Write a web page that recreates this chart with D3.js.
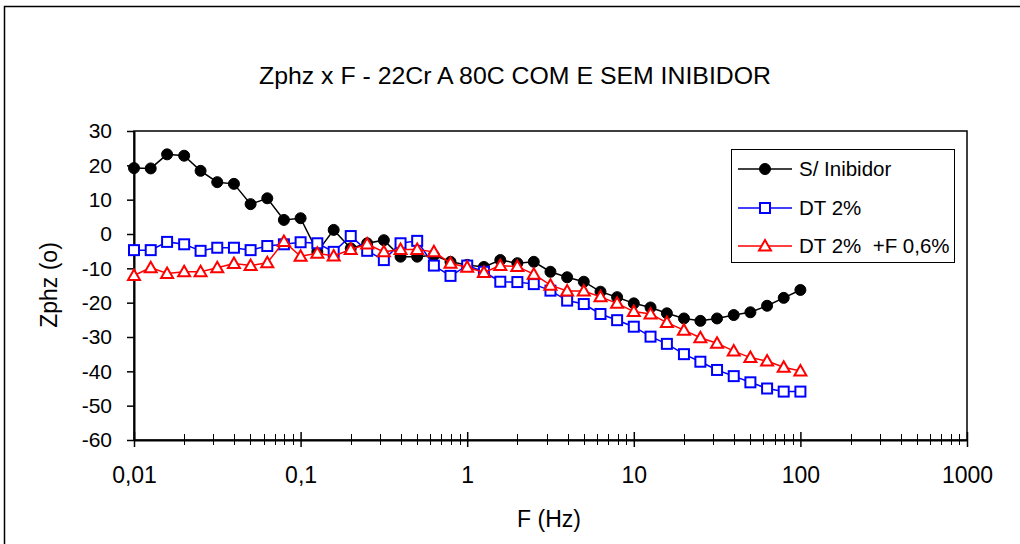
<!DOCTYPE html>
<html>
<head>
<meta charset="utf-8">
<script src="https://cdn.jsdelivr.net/npm/d3@7"></script>
<style>
  html, body { margin: 0; padding: 0; background: #fff; }
  svg { display: block; font-family: Arial, "Liberation Sans", sans-serif; }
</style>
</head>
<body>
<svg id="chart" width="1020" height="544"></svg>
<script>
// Frequencies: 10 points per decade, 0.01 Hz to 100 Hz
const freqs = [
  0.01, 0.0126, 0.0158, 0.02, 0.0251, 0.0316, 0.0398, 0.0501, 0.0631, 0.0794,
  0.1, 0.126, 0.158, 0.2, 0.251, 0.316, 0.398, 0.501, 0.631, 0.794,
  1, 1.26, 1.58, 2, 2.51, 3.16, 3.98, 5.01, 6.31, 7.94,
  10, 12.6, 15.8, 20, 25.1, 31.6, 39.8, 50.1, 63.1, 79.4, 100
];

// Phase angle (degrees) for each condition
const semInibidor = [
  19.2, 19.1, 23.2, 22.8, 18.4, 15.1, 14.6, 8.7, 10.4, 4.1,
  4.6, -5.2, 1.2, -4.2, -2.7, -1.8, -6.6, -6.6, -6.2, -8.1,
  -9.0, -9.6, -7.6, -8.5, -8.1, -11.0, -12.6, -13.9, -16.8, -18.4,
  -20.2, -21.4, -23.1, -24.6, -25.3, -24.6, -23.6, -22.8, -20.9, -18.6, -16.3
];
const dt2 = [
  -4.7, -4.7, -2.3, -3.0, -4.9, -4.0, -4.0, -4.7, -3.5, -3.0,
  -2.4, -2.7, -5.2, -0.6, -4.9, -7.6, -2.7, -2.0, -9.2, -12.2,
  -9.2, -11.0, -13.9, -14.0, -14.6, -16.5, -19.4, -20.4, -23.3, -25.1,
  -27.0, -29.9, -32.0, -35.0, -37.2, -39.6, -41.4, -43.2, -45.0, -45.9, -45.9
];
const dt2f06 = [
  -12.1, -9.8, -11.5, -11.0, -11.0, -9.8, -8.6, -9.2, -8.4, -2.2,
  -6.5, -5.6, -6.4, -4.5, -2.9, -5.2, -4.5, -4.5, -5.2, -8.5,
  -9.7, -11.2, -9.2, -9.5, -11.7, -14.9, -16.6, -16.6, -18.3, -20.2,
  -22.6, -23.3, -25.8, -28.0, -30.2, -31.8, -34.1, -36.0, -37.0, -38.8, -39.9
];

const seriesNames = ["S/ Inibidor", "DT 2%", "DT 2%  +F 0,6%"];
const xTickValues = [0.01, 0.1, 1, 10, 100, 1000];
const xTickLabels = ["0,01", "0,1", "1", "10", "100", "1000"];
const yTickValues = [30, 20, 10, 0, -10, -20, -30, -40, -50, -60];

const titleText = "Zphz x F - 22Cr A 80C COM E SEM INIBIDOR";
const xTitle = "F (Hz)";
const yTitle = "Zphz (o)";

const svg = d3.select("#chart");

// outer chart frame
svg.append("rect")
  .attr("x", 4.5).attr("y", 6.5)
  .attr("width", 1040).attr("height", 560)
  .attr("fill", "#fff").attr("stroke", "#000").attr("stroke-width", 1.5);

const plot = { left: 134, right: 967, top: 131, bottom: 440 };

const x = d3.scaleLog().domain([0.01, 1000]).range([plot.left, plot.right]);
const y = d3.scaleLinear().domain([-60, 30]).range([plot.bottom, plot.top]);

// plot area frame
svg.append("rect")
  .attr("x", plot.left).attr("y", plot.top)
  .attr("width", plot.right - plot.left).attr("height", plot.bottom - plot.top)
  .attr("fill", "none").attr("stroke", "#000").attr("stroke-width", 1.5);

// minor x ticks (2..9 in each decade)
const minorTicks = [];
for (let d = -2; d < 3; d++) {
  for (let m = 2; m <= 9; m++) minorTicks.push(m * Math.pow(10, d));
}
svg.append("g").selectAll("line").data(minorTicks).join("line")
  .attr("x1", d => Math.round(x(d)) + 0.5).attr("x2", d => Math.round(x(d)) + 0.5)
  .attr("y1", plot.bottom - 6).attr("y2", plot.bottom + 5)
  .attr("stroke", "#000").attr("stroke-width", 1);

// x axis
const xAxis = d3.axisBottom(x)
  .tickValues(xTickValues)
  .tickFormat((d, i) => xTickLabels[i])
  .tickSizeInner(7).tickSizeOuter(0);
const gx = svg.append("g").attr("transform", `translate(0,${plot.bottom})`).call(xAxis);
gx.select(".domain").attr("stroke-width", 2);
gx.selectAll(".tick line").attr("y1", -8).attr("y2", 7).attr("stroke-width", 1.5);
gx.selectAll(".tick text").attr("y", 43).attr("dy", null)
  .attr("font-size", 23).attr("fill", "#000")
  .attr("font-family", "Arial, 'Liberation Sans', sans-serif");

// y axis (plain hyphen for negative labels)
const yAxis = d3.axisLeft(y)
  .tickValues(yTickValues)
  .tickFormat(d => String(d))
  .tickSizeInner(7).tickSizeOuter(0).tickPadding(15);
const gy = svg.append("g").attr("transform", `translate(${plot.left},0)`).call(yAxis);
gy.select(".domain").attr("stroke-width", 2);
gy.selectAll(".tick line").attr("stroke-width", 1.5);
gy.selectAll(".tick text").attr("font-size", 21).attr("fill", "#000")
  .attr("font-family", "Arial, 'Liberation Sans', sans-serif");

// titles
svg.append("text").attr("x", 515).attr("y", 84)
  .attr("text-anchor", "middle").attr("font-size", 24.5)
  .attr("textLength", 512).attr("lengthAdjust", "spacingAndGlyphs")
  .text(titleText);
svg.append("text").attr("x", 549).attr("y", 527)
  .attr("text-anchor", "middle").attr("font-size", 23).text(xTitle);
svg.append("text")
  .attr("transform", "translate(57,285) rotate(-90)")
  .attr("text-anchor", "middle").attr("font-size", 23).text(yTitle);

const line = d3.line().x(d => x(d[0])).y(d => y(d[1]));

const seriesData = [
  { name: seriesNames[0], values: semInibidor, color: "#000", shape: "circle" },
  { name: seriesNames[1], values: dt2, color: "#0000ff", shape: "square" },
  { name: seriesNames[2], values: dt2f06, color: "#ff0000", shape: "triangle" }
];

function drawMarker(g, shape, color, cx, cy) {
  if (shape === "circle") {
    g.append("circle").attr("cx", cx).attr("cy", cy).attr("r", 5.5)
      .attr("fill", color).attr("stroke", color).attr("stroke-width", 1);
  } else if (shape === "square") {
    g.append("rect").attr("x", cx - 5).attr("y", cy - 5)
      .attr("width", 10).attr("height", 10)
      .attr("fill", "#fff").attr("stroke", color).attr("stroke-width", 2);
  } else {
    const h = 10, w = 12;
    g.append("path")
      .attr("d", `M${cx},${cy - h * 0.6} L${cx + w / 2},${cy + h * 0.45} L${cx - w / 2},${cy + h * 0.45} Z`)
      .attr("fill", "#fff").attr("stroke", color).attr("stroke-width", 2)
      .attr("stroke-linejoin", "miter");
  }
}

// series: lines then markers, in order
seriesData.forEach(s => {
  const pts = freqs.map((f, i) => [f, s.values[i]]);
  const g = svg.append("g");
  g.append("path").datum(pts).attr("d", line)
    .attr("fill", "none").attr("stroke", s.color).attr("stroke-width", 1.5);
  pts.forEach(p => drawMarker(g, s.shape, s.color, x(p[0]), y(p[1])));
});

// legend
const legend = svg.append("g");
legend.append("rect").attr("x", 731.5).attr("y", 149.5)
  .attr("width", 223).attr("height", 113)
  .attr("fill", "#fff").attr("stroke", "#000").attr("stroke-width", 1);
const rowY = [169, 208, 246];
seriesData.forEach((s, i) => {
  legend.append("line").attr("x1", 738).attr("x2", 792)
    .attr("y1", rowY[i]).attr("y2", rowY[i])
    .attr("stroke", s.color).attr("stroke-width", 1.5);
  drawMarker(legend, s.shape, s.color, 765, rowY[i]);
  legend.append("text").attr("x", 799).attr("y", rowY[i] + 7)
    .attr("font-size", 20.5).attr("xml:space", "preserve")
    .style("white-space", "pre").text(s.name);
});
</script>
</body>
</html>
